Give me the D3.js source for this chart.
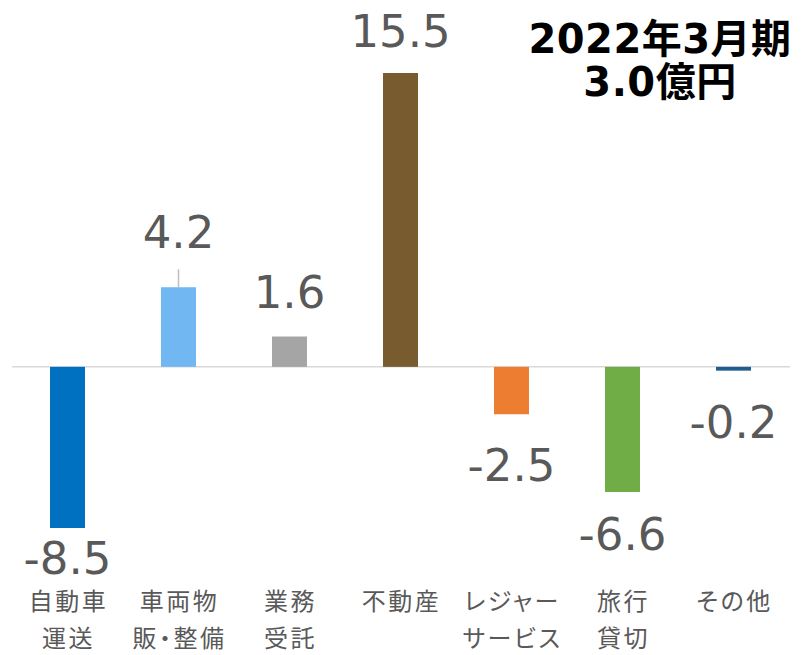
<!DOCTYPE html>
<html>
<head>
<meta charset="utf-8">
<script src="https://cdn.jsdelivr.net/npm/d3@7"></script>
<style>
  html, body { margin: 0; padding: 0; background: #fff; }
  svg { display: block; }
  .cat0, .cat1 { font-feature-settings: "palt"; }
</style>
</head>
<body>
<div id="chart"></div>
<script>
// categories (two-line labels) and values, 億円
const catLine1 = ['自動車', '車両物', '業務', '不動産', 'レジャー', '旅行', 'その他'];
const catLine2 = ['運送', '販・整備', '受託', '', 'サービス', '貸切', ''];
const values = [-8.5, 4.2, 1.6, 15.5, -2.5, -6.6, -0.2];
const colors = ['#0070C0', '#71B7F2', '#A5A5A5', '#785B2F', '#ED7D31', '#70AD47', '#1F5C8F'];
// hand-placed label gaps (px from bar end), as in the original
const labelGap = [13, 39, 29, 26, 34, 25, 34];
const titleLines = ['2022年3月期', '3.0億円'];

const W = 801, H = 655;
const svg = d3.select('#chart').append('svg').attr('width', W).attr('height', H);

const x = d3.scaleBand().domain(catLine1).range([12, 789]).paddingInner(0.685).paddingOuter(0.3425);
const y = d3.scaleLinear().domain([-8.5, 15.5]).range([528, 73]);

// zero line
svg.append('line').attr('x1', 12).attr('x2', 790).attr('y1', y(0)).attr('y2', y(0))
  .attr('stroke', '#D9D9D9').attr('stroke-width', 1.5);

// leader line above 車両物
svg.append('line')
  .attr('x1', x(catLine1[1]) + x.bandwidth() / 2).attr('x2', x(catLine1[1]) + x.bandwidth() / 2)
  .attr('y1', y(values[1])).attr('y2', y(values[1]) - 18)
  .attr('stroke', '#BFBFBF').attr('stroke-width', 1.5);

svg.selectAll('rect.bar').data(values).join('rect').attr('class', 'bar')
  .attr('x', (d, i) => x(catLine1[i]))
  .attr('width', x.bandwidth())
  .attr('y', d => y(Math.max(0, d)))
  .attr('height', d => Math.abs(y(d) - y(0)))
  .attr('fill', (d, i) => colors[i]);

const capH = 33;
svg.selectAll('text.val').data(values).join('text').attr('class', 'val')
  .attr('x', (d, i) => x(catLine1[i]) + x.bandwidth() / 2)
  .attr('y', (d, i) => d >= 0 ? y(d) - labelGap[i] : y(d) + labelGap[i] + capH)
  .attr('text-anchor', 'middle')
  .attr('font-family', '"DejaVu Sans", Verdana, sans-serif')
  .attr('font-size', 45).attr('fill', '#595959')
  .text(d => d.toFixed(1));

const catFont = '"Noto Sans CJK JP", "Noto Sans", sans-serif';
[catLine1, catLine2].forEach((line, k) => {
  svg.selectAll('text.cat' + k).data(line).join('text').attr('class', 'cat' + k)
    .attr('x', (d, i) => x(catLine1[i]) + x.bandwidth() / 2 + 1)
    .attr('y', 610 + k * 37)
    .attr('text-anchor', 'middle')
    .attr('font-family', catFont).attr('font-size', 24).attr('letter-spacing', 2.5)
    .attr('fill', '#595959')
    .text(d => d);
});

svg.selectAll('text.title').data(titleLines).join('text').attr('class', 'title')
  .attr('x', 660).attr('y', (d, i) => 53 + i * 43)
  .attr('text-anchor', 'middle')
  .attr('font-family', '"DejaVu Sans", "Noto Sans CJK JP", sans-serif')
  .attr('font-weight', 'bold').attr('font-size', 40).attr('letter-spacing', 0.5).attr('fill', '#000')
  .text(d => d);
</script>
</body>
</html>
